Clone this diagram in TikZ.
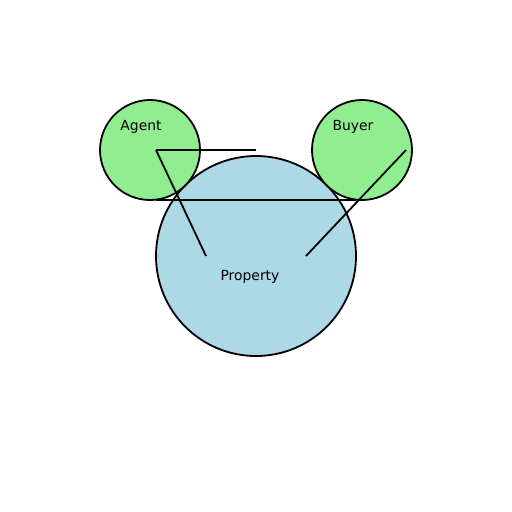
\documentclass[tikz,border=0pt]{standalone}
\usepackage{fontspec}
\setmainfont{DejaVu Sans}
\definecolor{lgreen}{HTML}{90EE90}
\definecolor{lblue}{HTML}{ADD8E6}
\begin{document}
\begin{tikzpicture}[x=1pt,y=-1pt,
  circ/.style={circle,draw=black,line width=1.8pt,inner sep=0pt},
  lbl/.style={anchor=base,font=\fontsize{13.9}{16}\selectfont,inner sep=0pt},
  conn/.style={draw=black,line width=1.8pt}]
\useasboundingbox (0,0) rectangle (512,512);
\node[circ,fill=lblue,minimum size=200pt] (property) at (256,256) {};
\node[circ,fill=lgreen,minimum size=100pt] (agent) at (150,150) {};
\node[circ,fill=lgreen,minimum size=100pt] (buyer) at (362,150) {};
\node[lbl] (agentlbl) at (141,130) {Agent};
\node[lbl] (buyerlbl) at (353,130) {Buyer};
\node[lbl] (propertylbl) at (250,280) {Property};
\coordinate (a1) at (156,150);
\coordinate (a2) at (256,150);
\coordinate (a3) at (206,256);
\coordinate (h1) at (156,200);
\coordinate (h2) at (356,200);
\coordinate (b1) at (406,150);
\coordinate (b2) at (306,256);
\draw[conn] (a1) -- (a2);
\draw[conn] (a1) -- (a3);
\draw[conn] (h1) -- (h2);
\draw[conn] (b1) -- (b2);
\end{tikzpicture}
\end{document}
